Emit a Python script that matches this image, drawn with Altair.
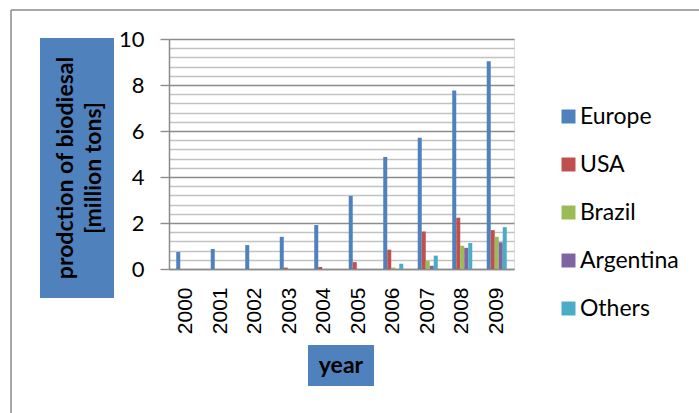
import altair as alt
import pandas as pd

years = ["2000", "2001", "2002", "2003", "2004", "2005", "2006", "2007", "2008", "2009"]
series = ["Europe", "USA", "Brazil", "Argentina", "Others"]
colors = ["#4F81BD", "#C0504D", "#9BBB59", "#8064A2", "#4BACC6"]

europe = [0.74, 0.87, 1.04, 1.40, 1.91, 3.18, 4.87, 5.71, 7.76, 9.03]
usa = [0.0, 0.0, 0.0, 0.06, 0.09, 0.30, 0.84, 1.63, 2.23, 1.69]
brazil = [0.0, 0.0, 0.0, 0.0, 0.0, 0.0, 0.06, 0.35, 1.01, 1.40]
argentina = [0.0, 0.0, 0.0, 0.0, 0.0, 0.0, 0.0, 0.14, 0.92, 1.16]
others = [0.0, 0.0, 0.0, 0.0, 0.0, 0.0, 0.23, 0.58, 1.13, 1.82]

y_ticks = [0, 0.4, 0.8, 1.2, 1.6, 2, 2.4, 2.8, 3.2, 3.6, 4, 4.4, 4.8, 5.2, 5.6,
           6, 6.4, 6.8, 7.2, 7.6, 8, 8.4, 8.8, 9.2, 9.6, 10]

y_title = ["prodction of biodiesal", "[million tons]"]
x_title = "year"

rows = []
for name, vals in zip(series, [europe, usa, brazil, argentina, others]):
    for yr, v in zip(years, vals):
        rows.append({"year": yr, "region": name, "value": v})
df = pd.DataFrame(rows)

major = "abs(datum.value/2 - round(datum.value/2)) < 0.001"
GRAY = "#8a8a8a"

bars = alt.Chart(df).mark_bar().encode(
    x=alt.X("year:N", sort=years,
            scale=alt.Scale(paddingInner=0.42, paddingOuter=0.21),
            axis=alt.Axis(title=None, labelAngle=270, ticks=False,
                          labelFont="Liberation Sans", labelFontSize=21,
                          labelColor="black", labelPadding=18,
                          domainColor=GRAY, domainWidth=1.5, grid=False)),
    xOffset=alt.XOffset("region:N", sort=series,
                        scale=alt.Scale(paddingInner=0, paddingOuter=0)),
    y=alt.Y("value:Q", scale=alt.Scale(domain=[0, 10], nice=False),
            axis=alt.Axis(title=None, values=y_ticks,
                          labelExpr=f"{major} ? format(datum.value, 'd') : ''",
                          gridColor={"condition": {"test": major, "value": "#8c8c8c"}, "value": "#c2c2c2"},
                          gridWidth=1.4,
                          tickColor={"condition": {"test": major, "value": "#8c8c8c"}, "value": "transparent"},
                          tickSize=9, tickWidth=1.4,
                          labelFont="Lato", labelFontSize=22, labelColor="black",
                          labelPadding=16, domainColor=GRAY, domainWidth=1.5)),
    color=alt.Color("region:N", sort=series,
                    scale=alt.Scale(domain=series, range=colors),
                    legend=alt.Legend(orient="none", legendX=388, legendY=66, title=None,
                                      symbolType="square", symbolSize=196,
                                      symbolStrokeWidth=0, labelFont="Lato",
                                      labelFontSize=23, labelColor="black",
                                      rowPadding=24, labelOffset=0)),
)

one = pd.DataFrame({"d": [0]})

border_v = alt.Chart(one).mark_rule(color=GRAY, strokeWidth=1.5).encode(
    x=alt.value(-158), y=alt.value(-29), y2=alt.value(380))
border_h = alt.Chart(one).mark_rule(color=GRAY, strokeWidth=1.5).encode(
    x=alt.value(-158), x2=alt.value(540), y=alt.value(-29))

ybox = alt.Chart(one).mark_rect(color="#4F81BD").encode(
    x=alt.value(-129), x2=alt.value(-55), y=alt.value(-1), y2=alt.value(259))
ytext = alt.Chart(one).mark_text(angle=270, font="Lato", fontWeight="bold",
                                 fontSize=23, lineHeight=28, color="black",
                                 align="center", baseline="middle").encode(
    x=alt.value(-103), y=alt.value(129), text=alt.value(y_title))

xbox = alt.Chart(one).mark_rect(color="#4F81BD").encode(
    x=alt.value(139), x2=alt.value(205), y=alt.value(306), y2=alt.value(347))
xtext = alt.Chart(one).mark_text(font="Lato", fontWeight="bold", fontSize=23,
                                 color="black", align="center", baseline="middle").encode(
    x=alt.value(172), y=alt.value(327), text=alt.value(x_title))

chart = alt.layer(border_v, border_h, ybox, ytext, xbox, xtext, bars).properties(
    width=345, height=230,
    autosize=alt.AutoSizeParams(type="none"),
    padding={"left": 169, "top": 39, "right": 185, "bottom": 144},
).configure_view(stroke=None).configure(background="white")

chart.save("out.html", embed_options={"renderer": "svg", "actions": False})
